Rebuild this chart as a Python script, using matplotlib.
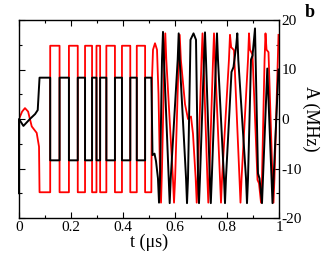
import numpy as np
import matplotlib
matplotlib.use("Agg")
import matplotlib.pyplot as plt
from matplotlib.ticker import MultipleLocator

plt.rcParams['font.family'] = ['Liberation Serif', 'DejaVu Serif']
plt.rcParams['axes.unicode_minus'] = False

# ---- data ----
# shared switching times of the bang-bang section (us)
edges = [0.079, 0.120, 0.156, 0.192, 0.226, 0.254, 0.281, 0.298, 0.312,
         0.336, 0.369, 0.396, 0.428, 0.453, 0.485, 0.509]
red_level = 14.8
black_level = 8.35

# initial transients
red_start_t = [0.0, 0.012, 0.023, 0.035, 0.049, 0.068, 0.077]
red_start_A = [0.0, 1.5, 2.2, 1.5, -1.5, -2.8, -5.6]
black_start_t = [0.0, 0.0, 0.017, 0.042, 0.062, 0.072]
black_start_A = [-15.0, 0.0, -1.4, 0.0, 1.0, 1.8]

# oscillatory section
red_osc_t = [0.5115, 0.5154, 0.5231, 0.5308, 0.5365, 0.5420, 0.5462, 0.5500,
             0.5590, 0.5627, 0.5665, 0.5920, 0.5962, 0.6005, 0.6140, 0.6181,
             0.6225, 0.6385, 0.6500, 0.6615, 0.6692, 0.6795, 0.6835, 0.6875,
             0.7020, 0.7058, 0.7095, 0.7245, 0.7281, 0.7318, 0.7463, 0.7500,
             0.7538, 0.7730, 0.7769, 0.7810, 0.8075, 0.8115, 0.8160, 0.8269,
             0.8480, 0.8519, 0.8560, 0.8808, 0.8846, 0.8885, 0.8981, 0.9173,
             0.9231, 0.9308, 0.9345, 0.9445, 0.9481, 0.9520, 0.9596, 0.9750,
             0.9788, 0.9825, 0.9981]
red_osc_A = [8.0, 14.0, 15.3, 14.0, 5.0, -10.0, -16.9, -10.0,
             12.0, 17.3, 12.0, -12.0, -16.9, -12.0, 12.0, 17.0,
             12.0, 3.0, 0.0, 0.5, -3.0, -12.0, -16.9, -12.0,
             12.0, 17.3, 12.0, -12.0, -16.9, -12.0, 12.0, 17.3,
             12.0, -12.0, -16.9, -12.0, 12.0, 17.0, 14.5, 13.9,
             -12.0, -16.9, -12.0, 12.0, 17.3, 14.0, 13.0, -12.3,
             -13.0, -16.9, -12.0, 12.0, 17.3, 14.0, 13.5, -12.0,
             -16.9, -12.0, 17.0]
black_osc_t = [0.5135, 0.5212, 0.5269, 0.5345, 0.5385, 0.5425, 0.5500, 0.5538,
               0.5576, 0.5758, 0.5796, 0.5835, 0.6104, 0.6142, 0.6180, 0.6425,
               0.6462, 0.6500, 0.6596, 0.6712, 0.6808, 0.6885, 0.6923, 0.6960,
               0.7115, 0.7154, 0.7192, 0.7340, 0.7377, 0.7415, 0.7577, 0.7615,
               0.7653, 0.7885, 0.7923, 0.7960, 0.8173, 0.8250, 0.8358, 0.8396,
               0.8434, 0.8731, 0.8769, 0.8808, 0.8923, 0.8981, 0.9077, 0.9192,
               0.9250, 0.9346, 0.9550, 0.9750, 0.9981]
black_osc_A = [-7.3, -7.0, -8.5, -12.0, -16.9, -12.0, 12.0, 17.6,
               12.0, -12.0, -17.0, -12.0, 12.0, 17.3, 12.0, -12.0,
               -17.0, -12.0, 16.0, 17.3, 16.0, -12.0, -17.0, -12.0,
               12.0, 17.5, 12.0, -12.0, -17.0, -12.0, 12.0, 17.3,
               12.0, -12.0, -17.0, -12.0, 9.5, 10.5, 15.0, 17.3,
               12.0, -12.0, -17.0, -12.0, 12.0, 12.8, 18.3, -11.0,
               -12.0, -17.0, 10.2, -17.0, 10.0]

xticks = [0, 0.2, 0.4, 0.6, 0.8, 1.0]
xticklabels = ["0", "0.2", "0.4", "0.6", "0.8", "1"]
yticks = [-20, -10, 0, 10, 20]
yticklabels = ["-20", "-10", "0", "10", "20"]

# ---- build step series ----
def steps(edge_list, first_sign, level):
    t, a = [], []
    sign = first_sign
    for i in range(len(edge_list) - 1):
        t += [edge_list[i], edge_list[i + 1]]
        a += [sign * level, sign * level]
        sign = -sign
    return t, a

rs_t, rs_A = steps(edges, -1, red_level)
bs_t, bs_A = steps(edges, +1, black_level)

red_t = red_start_t + rs_t + red_osc_t
red_A = red_start_A + rs_A + red_osc_A
black_t = black_start_t + bs_t + [edges[-1]] + black_osc_t
black_A = black_start_A + bs_A + [black_level] + black_osc_A

fig = plt.figure(figsize=(3.32, 2.57), dpi=100)
ax = fig.add_axes([19/332, 1-218/257, 260/332, 198/257])
ax.plot(red_t, red_A, color='#ff0000', lw=1.3, solid_joinstyle='round')
ax.plot(black_t, black_A, color='black', lw=1.4, solid_joinstyle='round',
        clip_on=False)

ax.set_xlim(0, 1)
ax.set_ylim(-20, 20)
ax.set_xticks(xticks)
ax.set_xticklabels(xticklabels)
ax.set_yticks(yticks)
ax.set_yticklabels(yticklabels)
ax.xaxis.set_minor_locator(MultipleLocator(0.1))
ax.yaxis.set_minor_locator(MultipleLocator(5))
ax.tick_params(which='both', direction='in', top=True, bottom=True,
               left=True, right=True, labelleft=False, labelright=True,
               labelsize=11, width=0.8, pad=2)
ax.tick_params(which='major', length=4)
ax.tick_params(which='minor', length=2.5)
for s in ax.spines.values():
    s.set_linewidth(1.0)

ax.set_xlabel('t (μs)', fontsize=13, labelpad=0)
ax.yaxis.set_label_position('right')
ax.set_ylabel('A (MHz)', fontsize=13, rotation=270, labelpad=12)
fig.text(305/332, 1-12/257, 'b', fontsize=13, fontweight='bold',
         ha='left', va='center')

fig.savefig('out.png', dpi=100)
